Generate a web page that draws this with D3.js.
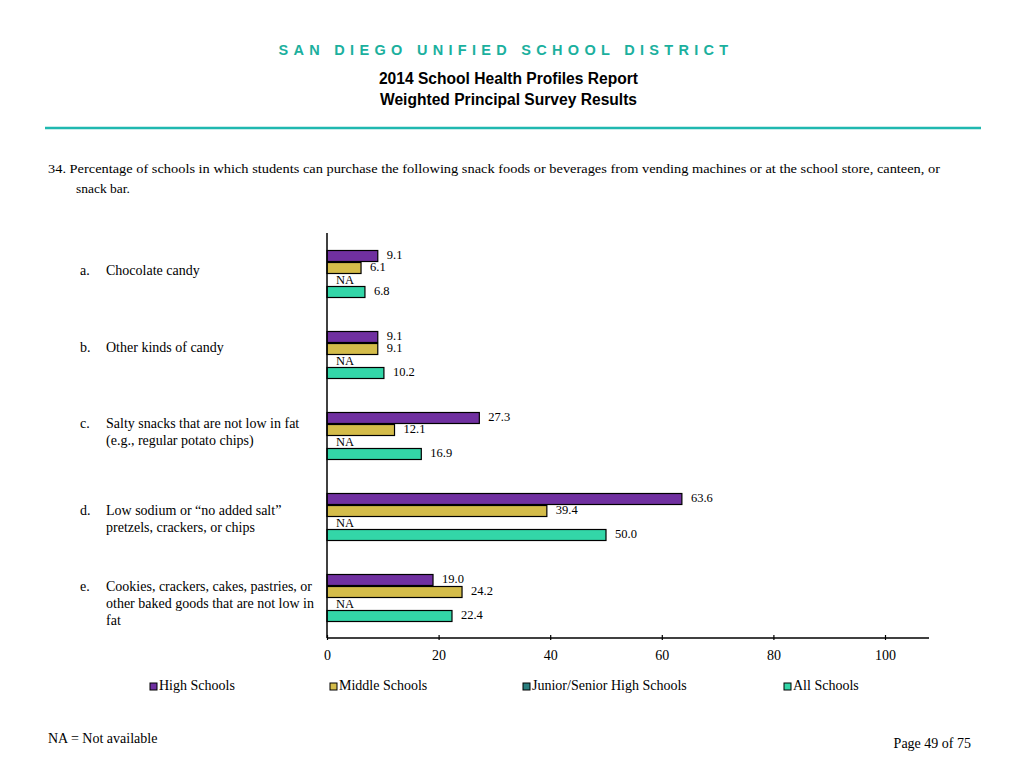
<!DOCTYPE html>
<html><head><meta charset="utf-8">
<script src="https://cdn.jsdelivr.net/npm/d3@7"></script>
<style>body{margin:0;background:#fff}svg{display:block}</style>
</head><body>
<svg id="c" width="1024" height="768"></svg>
<script>
const letters = ["a.","b.","c.","d.","e."];
const categories = [
  ["Chocolate candy"],
  ["Other kinds of candy"],
  ["Salty snacks that are not low in fat","(e.g., regular potato chips)"],
  ["Low sodium or \u201cno added salt\u201d","pretzels, crackers, or chips"],
  ["Cookies, crackers, cakes, pastries, or","other baked goods that are not low in","fat"]
];
const seriesNames = ["High Schools","Middle Schools","Junior/Senior High Schools","All Schools"];
const highSchools = [9.1, 9.1, 27.3, 63.6, 19.0];
const middleSchools = [6.1, 9.1, 12.1, 39.4, 24.2];
const juniorSenior = [null, null, null, null, null];
const allSchools = [6.8, 10.2, 16.9, 50.0, 22.4];
const xTicks = [0, 20, 40, 60, 80, 100];
const colors = ["#7030A0", "#D4BC4A", "#2A7F7F", "#33D6A8"];

const series = [highSchools, middleSchools, juniorSenior, allSchools];
const svg = d3.select("#c");
const serif = "'Liberation Serif','Times New Roman',serif";
const sans = "'Liberation Sans',Arial,sans-serif";

// Header
svg.append("text").attr("x", 506).attr("y", 55).attr("text-anchor", "middle")
  .attr("font-family", sans).attr("font-weight", "bold").attr("font-size", 14.5)
  .attr("letter-spacing", "5.3px").attr("fill", "#1BB09E")
  .text("SAN DIEGO UNIFIED SCHOOL DISTRICT");
svg.append("text").attr("x", 508.5).attr("y", 84).attr("text-anchor", "middle")
  .attr("font-family", sans).attr("font-weight", "bold").attr("font-size", 15.6)
  .text("2014 School Health Profiles Report");
svg.append("text").attr("x", 508.5).attr("y", 105).attr("text-anchor", "middle")
  .attr("font-family", sans).attr("font-weight", "bold").attr("font-size", 15.6)
  .text("Weighted Principal Survey Results");
svg.append("line").attr("x1", 45).attr("x2", 981).attr("y1", 128).attr("y2", 128)
  .attr("stroke", "#20B8B0").attr("stroke-width", 2.5);

// Question
svg.append("text").attr("x", 48).attr("y", 173).attr("font-family", serif).attr("font-size", 13.5)
  .attr("textLength", 892).attr("lengthAdjust", "spacingAndGlyphs")
  .text("34.  Percentage of schools in which students can purchase the following snack foods or beverages from vending machines or at the school store, canteen, or");
svg.append("text").attr("x", 76).attr("y", 193).attr("font-family", serif).attr("font-size", 13.5)
  .text("snack bar.");

// Scales
const x = d3.scaleLinear().domain([0, 100]).range([327, 885]);
const y = d3.scaleBand().domain(d3.range(categories.length)).range([233, 638]);
const inner = d3.scaleBand().domain(d3.range(series.length)).range([17, 65]);
const labelTop = [39, 35, 30, 36, 31];
const lineGap = 17;

const g = svg.append("g");
categories.forEach((lines, i) => {
  const top = y(i);
  const gg = g.append("g").attr("transform", `translate(0,${top})`);
  series.forEach((s, j) => {
    const v = s[i];
    const by = inner(j);
    const bh = inner.bandwidth();
    if (v == null) {
      gg.append("text").attr("x", x(0) + 9).attr("y", by + bh / 2 + 1)
        .attr("dominant-baseline", "middle").attr("font-family", serif).attr("font-size", 12.5)
        .text("NA");
    } else {
      gg.append("rect").attr("x", x(0)).attr("y", by + 0.5)
        .attr("width", x(v) - x(0)).attr("height", bh - 1)
        .attr("fill", colors[j]).attr("stroke", "#000").attr("stroke-width", 1.2);
      gg.append("text").attr("x", x(v) + 9).attr("y", by + bh / 2 + 0.5)
        .attr("dominant-baseline", "middle").attr("font-family", serif).attr("font-size", 12.5)
        .text(v.toFixed(1));
    }
  });
  const first = labelTop[i];
  gg.append("text").attr("x", 80).attr("y", first).attr("dominant-baseline", "middle")
    .attr("font-family", serif).attr("font-size", 14).text(letters[i]);
  lines.forEach((t, k) => {
    gg.append("text").attr("x", 106).attr("y", first + k * lineGap).attr("dominant-baseline", "middle")
      .attr("font-family", serif).attr("font-size", 14).text(t);
  });
});

// Axes
svg.append("line").attr("x1", x(0)).attr("x2", x(0)).attr("y1", 233).attr("y2", 638)
  .attr("stroke", "#000").attr("stroke-width", 1.5);
const xAxis = svg.append("g").attr("transform", "translate(0,638)")
  .call(d3.axisBottom(x).tickValues(xTicks).tickSize(3).tickSizeOuter(0).tickPadding(9).tickFormat(d3.format("d")));
xAxis.select(".domain").remove();
xAxis.selectAll(".tick line").attr("y1", -3).attr("y2", 2).attr("stroke-width", 1.2);
xAxis.selectAll("text").attr("font-family", serif).attr("font-size", 14);
svg.append("line").attr("x1", x(0)).attr("x2", 929).attr("y1", 638).attr("y2", 638)
  .attr("stroke", "#000").attr("stroke-width", 1.5);

// Legend
const legendX = [150, 330, 523, 784];
seriesNames.forEach((n, j) => {
  svg.append("rect").attr("x", legendX[j]).attr("y", 683).attr("width", 7).attr("height", 7)
    .attr("fill", colors[j]).attr("stroke", "#000").attr("stroke-width", 1);
  svg.append("text").attr("x", legendX[j] + 9).attr("y", 687).attr("dominant-baseline", "middle")
    .attr("font-family", serif).attr("font-size", 14).text(n);
});

// Footer
svg.append("text").attr("x", 48).attr("y", 743).attr("font-family", serif).attr("font-size", 14)
  .text("NA = Not available");
svg.append("text").attr("x", 971).attr("y", 748).attr("text-anchor", "end").attr("font-family", serif).attr("font-size", 14)
  .text("Page 49 of 75");
</script>
</body></html>
